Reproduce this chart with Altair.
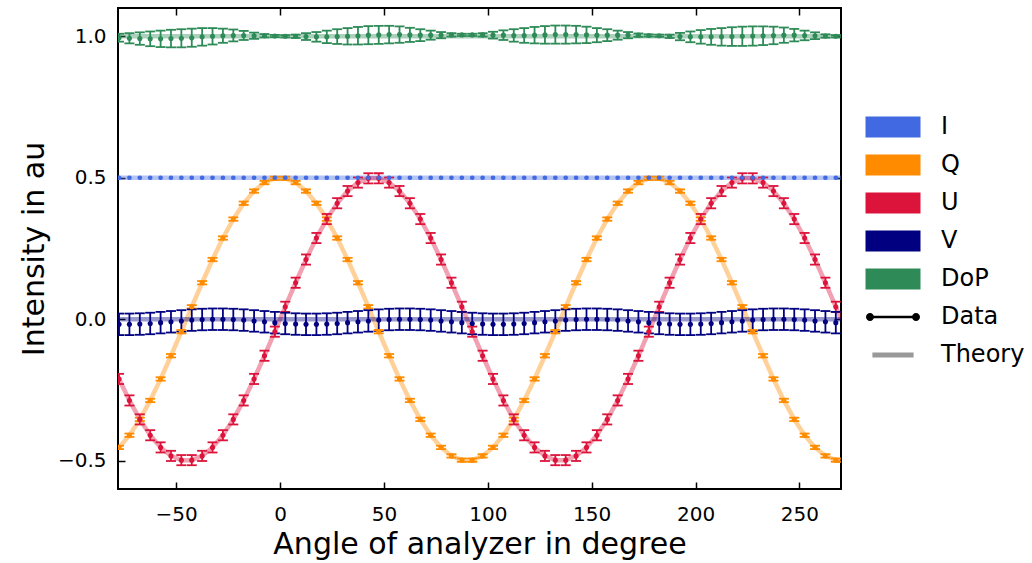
import altair as alt
import pandas as pd

# ---------------- data ----------------
angles = [-77.5, -72.5, -67.5, -62.5, -57.5, -52.5, -47.5, -42.5, -37.5, -32.5,
          -27.5, -22.5, -17.5, -12.5, -7.5, -2.5, 2.5, 7.5, 12.5, 17.5,
          22.5, 27.5, 32.5, 37.5, 42.5, 47.5, 52.5, 57.5, 62.5, 67.5,
          72.5, 77.5, 82.5, 87.5, 92.5, 97.5, 102.5, 107.5, 112.5, 117.5,
          122.5, 127.5, 132.5, 137.5, 142.5, 147.5, 152.5, 157.5, 162.5, 167.5,
          172.5, 177.5, 182.5, 187.5, 192.5, 197.5, 202.5, 207.5, 212.5, 217.5,
          222.5, 227.5, 232.5, 237.5, 242.5, 247.5, 252.5, 257.5, 262.5, 267.5]

i_values = [0.5] * 70

q_values = [-0.453, -0.41, -0.354, -0.287, -0.211, -0.129, -0.044, 0.044, 0.129, 0.211,
            0.287, 0.354, 0.41, 0.453, 0.483, 0.498, 0.498, 0.483, 0.453, 0.41,
            0.354, 0.287, 0.211, 0.129, 0.044, -0.044, -0.129, -0.211, -0.287, -0.354,
            -0.41, -0.453, -0.483, -0.498, -0.498, -0.483, -0.453, -0.41, -0.354, -0.287,
            -0.211, -0.129, -0.044, 0.044, 0.129, 0.211, 0.287, 0.354, 0.41, 0.453,
            0.483, 0.498, 0.498, 0.483, 0.453, 0.41, 0.354, 0.287, 0.211, 0.129,
            0.044, -0.044, -0.129, -0.211, -0.287, -0.354, -0.41, -0.453, -0.483, -0.498]

u_values = [-0.211, -0.287, -0.354, -0.41, -0.453, -0.483, -0.498, -0.498, -0.483, -0.453,
            -0.41, -0.354, -0.287, -0.211, -0.129, -0.044, 0.044, 0.129, 0.211, 0.287,
            0.354, 0.41, 0.453, 0.483, 0.498, 0.498, 0.483, 0.453, 0.41, 0.354,
            0.287, 0.211, 0.129, 0.044, -0.044, -0.129, -0.211, -0.287, -0.354, -0.41,
            -0.453, -0.483, -0.498, -0.498, -0.483, -0.453, -0.41, -0.354, -0.287, -0.211,
            -0.129, -0.044, 0.044, 0.129, 0.211, 0.287, 0.354, 0.41, 0.453, 0.483,
            0.498, 0.498, 0.483, 0.453, 0.41, 0.354, 0.287, 0.211, 0.129, 0.044]

v_values = [-0.018, -0.018, -0.017, -0.015, -0.012, -0.009, -0.006, -0.003, -0.001, 0.0,
            0.0, -0.001, -0.003, -0.006, -0.009, -0.012, -0.015, -0.017, -0.018, -0.018,
            -0.017, -0.015, -0.012, -0.009, -0.006, -0.003, -0.001, 0.0, 0.0, -0.001,
            -0.003, -0.006, -0.009, -0.012, -0.015, -0.017, -0.018, -0.018, -0.017, -0.015,
            -0.012, -0.009, -0.006, -0.003, -0.001, 0.0, 0.0, -0.001, -0.003, -0.006,
            -0.009, -0.012, -0.015, -0.017, -0.018, -0.018, -0.017, -0.015, -0.012, -0.009,
            -0.006, -0.003, -0.001, 0.0, 0.0, -0.001, -0.003, -0.006, -0.009, -0.012]

dop_values = [0.995, 0.993, 0.992, 0.991, 0.991, 0.992, 0.993, 0.995, 0.998, 1.0,
              1.002, 1.003, 1.003, 1.002, 1.002, 1.001, 1.0, 1.0, 0.999, 0.998,
              0.998, 0.999, 1.0, 1.002, 1.004, 1.005, 1.006, 1.006, 1.005, 1.004,
              1.004, 1.004, 1.005, 1.005, 1.005, 1.005, 1.004, 1.004, 1.003, 1.003,
              1.004, 1.005, 1.006, 1.006, 1.006, 1.005, 1.004, 1.004, 1.004, 1.004,
              1.004, 1.003, 1.002, 1.0, 0.999, 0.998, 0.998, 0.998, 0.998, 0.999,
              1.0, 1.001, 1.002, 1.003, 1.004, 1.004, 1.003, 1.002, 1.001, 1.0]

q_err = [0.006] * 70
u_err = [0.018] * 70
v_err = [0.038] * 70
dop_err = [0.014, 0.018, 0.022, 0.026, 0.029, 0.031, 0.032, 0.032, 0.031, 0.029,
           0.025, 0.021, 0.016, 0.011, 0.006, 0.004, 0.004, 0.006, 0.012, 0.017,
           0.022, 0.026, 0.029, 0.031, 0.032, 0.032, 0.031, 0.029, 0.025, 0.021,
           0.016, 0.011, 0.006, 0.004, 0.004, 0.006, 0.012, 0.017, 0.022, 0.026,
           0.029, 0.031, 0.032, 0.032, 0.031, 0.029, 0.025, 0.021, 0.016, 0.011,
           0.006, 0.004, 0.004, 0.006, 0.013, 0.019, 0.024, 0.028, 0.031, 0.033,
           0.034, 0.034, 0.033, 0.031, 0.027, 0.022, 0.017, 0.012, 0.006, 0.004]

# theory curves (edges of the axis range added)
theory_angles = [-78.0] + angles + [270.0]
i_theory = [0.5] * 72
q_theory = [-0.457] + q_values + [-0.5]
u_theory = [-0.203] + u_values + [0.0]
v_theory = [0.0] * 72
dop_theory = [1.0] * 72

legend_names = ["I", "Q", "U", "V", "DoP", "Data", "Theory"]
legend_colors = ["#4169E1", "#FF8C00", "#DC143C", "#000080", "#2E8B57", "#000000", "#999999"]
x_ticks = [-50, 0, 50, 100, 150, 200, 250]
y_ticks = [-0.5, 0.0, 0.5, 1.0]

# ---------------- tables ----------------
rows = []
for name, vals, errs in [("V", v_values, v_err), ("DoP", dop_values, dop_err),
                         ("Q", q_values, q_err), ("U", u_values, u_err)]:
    for a, v, e in zip(angles, vals, errs):
        rows.append({"angle": a, "value": v, "err": e, "series": name})
data = pd.DataFrame(rows)

i_df = pd.DataFrame({"angle": angles, "value": i_values, "series": "I"})

trows = []
for name, vals in [("I", i_theory), ("Q", q_theory), ("U", u_theory),
                   ("V", v_theory), ("DoP", dop_theory)]:
    for a, v in zip(theory_angles, vals):
        trows.append({"angle": a, "value": v, "series": name})
theory_df = pd.DataFrame(trows)

legend_df = pd.DataFrame({"series": legend_names})

# ---------------- scales / axes ----------------
FONT = "DejaVu Sans"
xscale = alt.Scale(domain=[-78, 270], nice=False, zero=False)
yscale = alt.Scale(domain=[-0.6, 1.1], nice=False, zero=False)
cscale = alt.Scale(domain=legend_names, range=legend_colors)

rect = "M-2.75,-1.05H2.75V1.05H-2.75Z"
data_sym = ("M-1.95,-0.13H1.95V0.13H-1.95Z "
            "M-2.7,0A0.4,0.4 0 1,1 -1.9,0A0.4,0.4 0 1,1 -2.7,0Z "
            "M1.9,0A0.4,0.4 0 1,1 2.7,0A0.4,0.4 0 1,1 1.9,0Z")
theory_sym = "M-2.06,-0.25H2.06V0.25H-2.06Z"
sscale = alt.Scale(domain=legend_names, range=[rect, rect, rect, rect, rect, data_sym, theory_sym])

common_axis = dict(tickSize=7, tickWidth=1.5, tickColor="black", domain=False,
                   grid=False, offset=-7, labelFont=FONT, labelFontSize=20,
                   labelColor="black", titleFont=FONT, titleFontSize=30,
                   titleFontWeight="normal", titleColor="black")

x_bottom = alt.Axis(orient="bottom", values=x_ticks, format="d", labelPadding=15,
                    title="Angle of analyzer in degree", titlePadding=5, **common_axis)
y_left = alt.Axis(orient="left", values=y_ticks, format=".1f", labelPadding=12,
                  title="Intensity in au", titlePadding=8, **common_axis)
x_top = alt.Axis(orient="top", values=x_ticks, labels=False, title=None, tickSize=7,
                 tickWidth=1.5, tickColor="black", domain=False, grid=False, offset=-7)
y_right = alt.Axis(orient="right", values=y_ticks, labels=False, title=None, tickSize=7,
                   tickWidth=1.5, tickColor="black", domain=False, grid=False, offset=-7)

def X(axis=None):
    return alt.X("angle:Q", scale=xscale, axis=axis)

def col():
    return alt.Color("series:N", scale=cscale, legend=None)

# ---------------- layers ----------------
theory = alt.Chart(theory_df).mark_line(strokeWidth=4.5, opacity=0.4, clip=True).encode(
    x=X(), y=alt.Y("value:Q", scale=yscale, axis=None), color=col(), detail="series:N")

base = alt.Chart(data).transform_calculate(
    lo="datum.value - datum.err", hi="datum.value + datum.err")

rules = base.mark_rule(strokeWidth=1.8, clip=True).encode(
    x=X(), y=alt.Y("lo:Q", scale=yscale, axis=None), y2="hi:Q", color=col())
cap_lo = base.mark_tick(orient="horizontal", size=10, thickness=1.8, opacity=1, clip=True).encode(
    x=X(), y=alt.Y("lo:Q", scale=yscale, axis=None), color=col())
cap_hi = base.mark_tick(orient="horizontal", size=10, thickness=1.8, opacity=1, clip=True).encode(
    x=X(), y=alt.Y("hi:Q", scale=yscale, axis=None), color=col())
dots = base.mark_circle(size=26, opacity=1, clip=True).encode(
    x=X(x_bottom), y=alt.Y("value:Q", scale=yscale, axis=y_left), color=col())

i_dots = alt.Chart(i_df).mark_circle(size=22, opacity=1, clip=True).encode(
    x=X(x_top), y=alt.Y("value:Q", scale=yscale, axis=y_right), color=col())

leg_props = dict(orient="none", legendX=763, legendY=107, title=None, padding=0,
                 symbolSize=400, symbolStrokeWidth=0, symbolOpacity=1,
                 labelFont=FONT, labelFontSize=24, labelColor="black",
                 labelOffset=36, rowPadding=14)
legend_layer = alt.Chart(legend_df).mark_point(filled=True, clip=True).encode(
    x=alt.value(-500), y=alt.value(-500),
    color=alt.Color("series:N", scale=cscale, legend=alt.Legend(**leg_props)),
    shape=alt.Shape("series:N", scale=sscale, legend=alt.Legend(**leg_props)))

chart = alt.layer(theory, rules, cap_lo, cap_hi, dots, i_dots, legend_layer).resolve_axis(
    x="independent", y="independent"
).resolve_scale(
    color="independent", shape="independent"
).properties(
    width=723, height=481,
    autosize=alt.AutoSizeParams(type="none"),
    padding={"left": 118, "top": 8, "right": 191, "bottom": 74},
    background="white",
).configure_view(stroke="black", strokeWidth=2)

chart.save("out.html", embed_options={"renderer": "svg", "actions": False})
